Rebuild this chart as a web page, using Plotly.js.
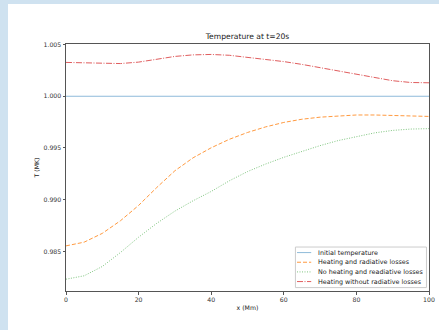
<!DOCTYPE html>
<html>
<head>
<meta charset="utf-8">
<script src="https://cdn.plot.ly/plotly-3.0.1.min.js"></script>
<style>
  html, body { margin: 0; padding: 0; background: #cfe2f0; width: 439px; height: 330px; overflow: hidden; }
  #chart { position: absolute; left: 8px; top: 4px; width: 431px; height: 326px; }
</style>
</head>
<body>
<div id="chart"></div>
<script>
// Position along the loop (Mm)
const xPos = [0, 5, 10, 15, 20, 25, 30, 35, 40, 45, 50, 55, 60, 65, 70, 75, 80, 85, 90, 95, 100];

// Temperature profiles at t = 20 s (MK)
const initialTemp = [1, 1, 1, 1, 1, 1, 1, 1, 1, 1, 1, 1, 1, 1, 1, 1, 1, 1, 1, 1, 1];
const heatingRadiative = [0.98554, 0.98590, 0.98675, 0.98797, 0.98945, 0.99118, 0.99280, 0.99405, 0.99502, 0.99584,
                          0.99650, 0.99704, 0.99747, 0.99778, 0.99798, 0.99811, 0.99819, 0.99819, 0.99812, 0.99806, 0.99805];
const noHeatingRadiative = [0.98232, 0.98265, 0.98355, 0.98490, 0.98638, 0.98772, 0.98890, 0.98990, 0.99080, 0.99183,
                            0.99272, 0.99345, 0.99410, 0.99470, 0.99523, 0.99572, 0.99610, 0.99646, 0.99670, 0.99683, 0.99687];
const heatingNoRadiative = [1.00327, 1.00322, 1.00316, 1.00316, 1.00330, 1.00358, 1.00385, 1.00400, 1.00404, 1.00396,
                            1.00378, 1.00358, 1.00335, 1.00308, 1.00276, 1.00241, 1.00208, 1.00177, 1.00150, 1.00133, 1.00130];

const seriesNames = ["Initial temperature", "Heating and radiative losses",
                     "No heating and readiative losses", "Heating without radiative losses"];
const xTicks = [0, 20, 40, 60, 80, 100];
const yTicks = [0.985, 0.990, 0.995, 1.000, 1.005];

const styles = [
  { color: "#8fbbda", dash: "solid" },
  { color: "#ff9a40", dash: "4px,2px" },
  { color: "#80c680", dash: "1px,1.5px" },
  { color: "#e05d5e", dash: "6px,1.5px,1px,1.5px" }
];
const ySeries = [initialTemp, heatingRadiative, noHeatingRadiative, heatingNoRadiative];

const traces = ySeries.map((ys, i) => ({
  x: xPos, y: ys, type: "scatter", mode: "lines", name: seriesNames[i],
  line: { color: styles[i].color, dash: styles[i].dash, width: 1, shape: "linear" },
  showlegend: false, hoverinfo: "skip"
}));

// Hand-built legend in the lower right corner of the axes
const legendTop = 0.1555, legendStep = 0.0391;
const shapes = [{
  type: "rect", xref: "paper", yref: "paper", x0: 0.632, x1: 0.993, y0: 0.0138, y1: 0.178,
  line: { color: "#cccccc", width: 1 }, fillcolor: "rgba(255,255,255,0.85)", layer: "above"
}];
const annotations = [];
seriesNames.forEach((name, i) => {
  const yy = legendTop - i * legendStep;
  shapes.push({
    type: "line", xref: "paper", yref: "paper", x0: 0.6364, x1: 0.6755, y0: yy, y1: yy,
    line: { color: styles[i].color, dash: styles[i].dash, width: 1 }, layer: "above"
  });
  annotations.push({
    xref: "paper", yref: "paper", x: 0.6887, y: yy, xanchor: "left", yanchor: "middle",
    text: name, showarrow: false, font: { family: "DejaVu Sans", size: 6.4, color: "#222" }
  });
});

const axisCommon = {
  showline: true, linecolor: "#555", linewidth: 1, mirror: true,
  showgrid: false, zeroline: false, ticks: "outside", ticklen: 2.5, tickwidth: 1, tickcolor: "#555",
  tickfont: { family: "DejaVu Sans", size: 6.2, color: "#333" }
};

const layout = {
  width: 431, height: 326,
  margin: { l: 58, r: 10, t: 40, b: 39 },
  paper_bgcolor: "#ffffff", plot_bgcolor: "#ffffff",
  title: { text: "Temperature at t=20s", x: 0.5, xref: "paper", y: 1 - 32 / 326, yanchor: "middle",
           font: { family: "DejaVu Sans", size: 7.6, color: "#222" } },
  xaxis: Object.assign({}, axisCommon, {
    range: [0, 100], tickvals: xTicks,
    title: { text: "x (Mm)", standoff: 3, font: { family: "DejaVu Sans", size: 6.2, color: "#222" } }
  }),
  yaxis: Object.assign({}, axisCommon, {
    range: [0.98118, 1.00505], tickvals: yTicks, tickformat: ".3f",
    title: { text: "T (MK)", standoff: 3, font: { family: "DejaVu Sans", size: 6.2, color: "#222" } }
  }),
  shapes: shapes, annotations: annotations, showlegend: false
};

Plotly.newPlot("chart", traces, layout, { staticPlot: true, displayModeBar: false });
</script>
</body>
</html>
